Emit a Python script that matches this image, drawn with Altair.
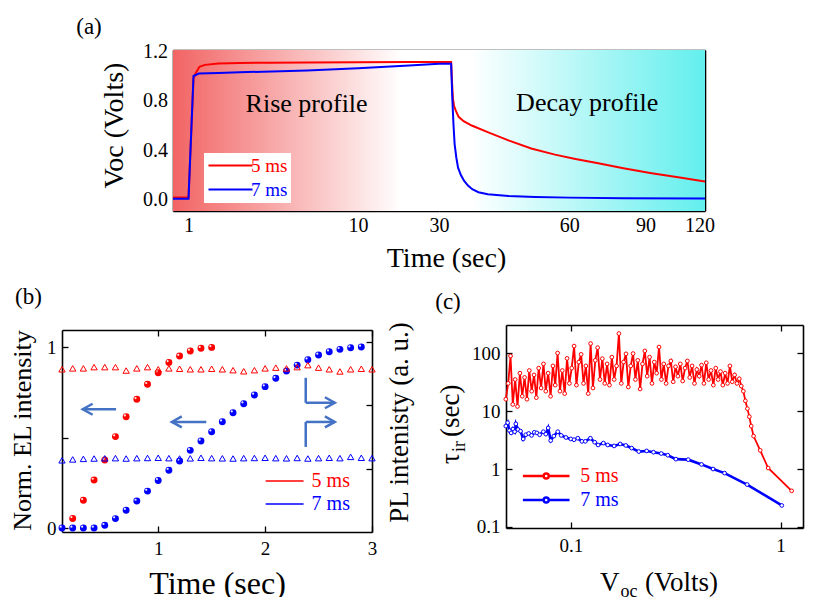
import math
import altair as alt
import pandas as pd

FONT = "Liberation Serif"
RED = "#ff0000"
BLUE = "#0000ff"
ARROW = "#4472c4"
S5, S7 = "5 ms", "7 ms"
SERIES = [S5, S7]
LABEL_COLOR = "datum.label == '5 ms' ? '#ff0000' : '#0000ff'"

# ---------------- (a) Voc rise / decay ----------------
rise5_t = [0.81, 1.0, 1.07, 1.1, 1.16, 1.25, 1.5, 2.0, 3.0, 5.0, 10.0, 20.0, 30.0]
rise5_v = [0.02, 0.02, 0.98, 1.02, 1.075, 1.09, 1.10, 1.105, 1.108, 1.11, 1.112, 1.113, 1.113]
rise7_t = [0.81, 1.0, 1.07, 1.15, 1.5, 2.0, 5.0, 10.0, 20.0, 30.0]
rise7_v = [0.008, 0.008, 1.0, 1.02, 1.025, 1.03, 1.045, 1.062, 1.085, 1.098]
decay5_t = [30.0, 32.0, 32.15, 32.3, 32.5, 32.8, 33.3, 34.2, 35.7, 39.0, 43.4, 49.0,
            55.6, 62.0, 70.0, 80.0, 93.0, 108.0, 123.5]
decay5_v = [1.113, 1.113, 0.95, 0.82, 0.76, 0.72, 0.67, 0.635, 0.60, 0.545, 0.48, 0.415,
            0.365, 0.33, 0.295, 0.255, 0.215, 0.18, 0.148]
decay7_t = [30.0, 32.0, 32.2, 32.4, 32.6, 32.9, 33.2, 33.7, 34.3, 35.0, 35.8, 37.0,
            38.9, 43.4, 50.0, 60.0, 80.0, 123.5]
decay7_v = [1.098, 1.098, 0.82, 0.61, 0.45, 0.34, 0.26, 0.20, 0.153, 0.115, 0.086, 0.062,
            0.046, 0.032, 0.024, 0.018, 0.013, 0.010]

# ---------------- (b) EL (left) / PL (right, a.u.) vs time ----------------
el5_t = [0.2, 0.3, 0.4, 0.5, 0.6, 0.7, 0.8, 0.9, 1.0, 1.1, 1.2, 1.3, 1.4, 1.5]
el5_v = [0.053, 0.153, 0.265, 0.376, 0.505, 0.615, 0.711, 0.794, 0.858, 0.915, 0.95,
         0.978, 0.993, 0.998]
el7_t = [0.1, 0.2, 0.3, 0.4, 0.5, 0.6, 0.7, 0.8, 0.9, 1.0, 1.1, 1.2, 1.3, 1.4, 1.5,
         1.6, 1.7, 1.8, 1.9, 2.0, 2.1, 2.2, 2.3, 2.4, 2.5, 2.6, 2.7, 2.8, 2.9]
el7_v = [0.0, 0.0, 0.0, 0.0, 0.015, 0.052, 0.098, 0.149, 0.204, 0.263, 0.319, 0.37,
         0.429, 0.481, 0.532, 0.587, 0.637, 0.687, 0.735, 0.781, 0.827, 0.867, 0.9,
         0.93, 0.956, 0.974, 0.987, 0.996, 1.0]
pl_t = [0.1, 0.2, 0.3, 0.4, 0.5, 0.6, 0.7, 0.8, 0.9, 1.0, 1.1, 1.2, 1.3, 1.4, 1.5,
        1.6, 1.7, 1.8, 1.9, 2.0, 2.1, 2.2, 2.3, 2.4, 2.5, 2.6, 2.7, 2.8, 2.9, 3.0]
pl5 = [0.877, 0.882, 0.882, 0.889, 0.889, 0.889, 0.870, 0.882, 0.889, 0.877, 0.882, 0.880,
       0.877, 0.877, 0.880, 0.877, 0.872, 0.866, 0.872, 0.882, 0.886, 0.882, 0.889, 0.900,
       0.886, 0.877, 0.865, 0.877, 0.880, 0.877]
pl7 = [0.374, 0.379, 0.382, 0.384, 0.385, 0.386, 0.384, 0.386, 0.387, 0.388, 0.386, 0.384,
       0.385, 0.388, 0.386, 0.385, 0.384, 0.386, 0.387, 0.388, 0.386, 0.385, 0.387, 0.384,
       0.386, 0.388, 0.386, 0.393, 0.388, 0.386]
pl_ticks = [0.326, 0.679, 1.028]
arrow_x = [0.606, 1.45, 2.38, 2.38, 2.38, 2.38]
arrow_y = [0.656, 0.586, 0.83, 0.692, 0.448, 0.586]
arrow_x2 = [0.294, 1.128, 2.38, 2.652, 2.38, 2.652]
arrow_y2 = [0.656, 0.586, 0.692, 0.692, 0.586, 0.586]
headL_x = [0.294, 1.128]
headL_y = [0.656, 0.586]
headR_x = [2.652, 2.652]
headR_y = [0.692, 0.586]

# ---------------- (c) tau_ir vs Voc ----------------
c5_x = [0.049, 0.0503, 0.0516, 0.0529, 0.0543, 0.0557, 0.0572, 0.0587, 0.0602, 0.0618,
        0.0634, 0.0651, 0.0668, 0.0685, 0.0703, 0.0722, 0.0741, 0.076, 0.078, 0.0801,
        0.0822, 0.0843, 0.0865, 0.0888, 0.0911, 0.0935, 0.096, 0.0985, 0.101, 0.1037,
        0.1064, 0.1092, 0.112, 0.115, 0.118, 0.1211, 0.1243, 0.1275, 0.1309, 0.1343,
        0.1378, 0.1414, 0.1452, 0.149, 0.1529, 0.1569, 0.161, 0.1653, 0.1696, 0.1741,
        0.1786, 0.1833, 0.1881, 0.1931, 0.1981, 0.2033, 0.2087, 0.2141, 0.2198, 0.2255,
        0.2314, 0.2375, 0.2438, 0.2502, 0.2567, 0.2635, 0.2704, 0.2775, 0.2848, 0.2923,
        0.3, 0.3078, 0.3159, 0.3242, 0.3328, 0.3415, 0.3505, 0.3597, 0.3691, 0.3788,
        0.3888, 0.399, 0.4095, 0.4202, 0.4313, 0.4426, 0.4542, 0.4662, 0.4784, 0.491,
        0.5039, 0.5171, 0.5307, 0.5446, 0.5589, 0.5736, 0.5887, 0.6041, 0.62, 0.6363,
        0.65, 0.665, 0.68, 0.695, 0.71, 0.725, 0.744, 0.8, 0.873, 1.13]
c5_y = [16, 30, 89, 13, 35, 12, 45, 18, 38, 16,
        50, 22, 42, 17, 55, 25, 65, 22, 45, 18,
        60, 28, 100, 22, 50, 20, 81, 30, 55, 132,
        28, 70, 95, 30, 60, 20, 146, 25, 75, 124,
        35, 80, 30, 65, 28, 85, 35, 60, 217, 30,
        70, 97, 26, 60, 98, 35, 75, 24, 65, 109,
        40, 85, 30, 70, 45, 127, 35, 65, 30, 60,
        73, 32, 58, 40, 65, 33, 55, 73, 38, 60,
        30, 52, 40, 62, 30, 68, 35, 50, 28, 55,
        35, 48, 28, 45, 30, 60, 32, 42, 30, 36,
        27, 22, 15, 11, 8, 5.5, 3.7, 2.1, 1.04, 0.42]
c7_x = [0.049, 0.05, 0.051, 0.052, 0.053, 0.054, 0.0547, 0.056, 0.0576, 0.0593,
        0.061, 0.063, 0.065, 0.067, 0.0689, 0.071, 0.074, 0.076, 0.078, 0.0802,
        0.083, 0.0867, 0.09, 0.0948, 0.1, 0.1036, 0.108, 0.113, 0.1173, 0.124,
        0.13, 0.135, 0.143, 0.15, 0.161, 0.172, 0.183, 0.195, 0.211, 0.23,
        0.248, 0.27, 0.29, 0.317, 0.363, 0.42, 0.477, 0.541, 0.693, 1.014]
c7_y = [5.5, 6.3, 4.6, 4.2, 4.9, 4.4, 6.0, 4.8, 4.5, 3.3,
        3.9, 4.1, 3.8, 4.3, 4.2, 3.9, 4.4, 4.0, 5.1, 3.1,
        3.7, 4.4, 3.8, 3.5, 3.3, 3.2, 3.4, 3.0, 3.0, 3.4,
        2.9, 2.6, 2.8, 2.6, 2.5, 2.7, 2.55, 2.3, 2.0, 2.05,
        1.95, 1.85, 1.73, 1.48, 1.45, 1.2, 1.0, 0.85, 0.54, 0.235]

# ---------------- layout: two cells, (a) on top and (b)+(c) below ----------------
AL_OFF, AL_AX, AR_AX, A_H = 111, 266, 266, 161
A_W = AL_OFF + AL_AX + AR_AX
B_AX, B_H, B_TOP = 310, 202, 5
C_OFF, C_W, C_H = 444, 297, 203
BC_W, BC_H = C_OFF + C_W, B_TOP + B_H
DOM_XL, DOM_XR, DOM_YA = [0.81, 30.0], [30.0, 123.5], [-0.09, 1.21]
DOM_XB, DOM_YB = [0.1, 3.0], [-0.022, 1.094]
DOM_XC, DOM_YC = [0.0491, 1.28], [0.096, 305.0]


# pixel offset (from a panel's axis origin) -> data value, used for annotations only
def at_lin(dom, size, p, flip=False):
    f = p / size
    return dom[1] - f * (dom[1] - dom[0]) if flip else dom[0] + f * (dom[1] - dom[0])


def at_log(dom, size, p, flip=False):
    a, b = math.log10(dom[0]), math.log10(dom[1])
    f = p / size
    return 10 ** (b - f * (b - a)) if flip else 10 ** (a + f * (b - a))


def ax(orient, values, size, labels=False, expr="", domain=False, lsize=19, lpad=4, **kw):
    d = dict(orient=orient, values=values, tickSize={"expr": str(-size)}, ticks=True,
             domain=domain, grid=False, labels=labels, title=None,
             tickColor="black", tickWidth=1.3, domainColor="black", domainWidth=1.6)
    if labels:
        d.update(labelExpr=expr, labelFont=FONT, labelFontSize=lsize, labelColor="black",
                 labelPadding=lpad + size, labelFlush=False, labelOverlap=False)
    d.update(kw)
    return alt.Axis(**d)


def title_kw(text, size, x, y, angle=0):
    return dict(title=text, titleFont=FONT, titleFontSize=size, titleFontWeight="normal",
                titleColor="black", titleX=x, titleY=y, titleAngle=angle,
                titleAlign="center", titleBaseline="alphabetic")


def guide(df, xf, xs, yf, ys, xa=None, ya=None):
    return alt.Chart(df).mark_point(opacity=0).encode(
        x=alt.X(xf, scale=xs, axis=xa), y=alt.Y(yf, scale=ys, axis=ya))


def tlabel(text, xv, yv, xs, ys, size, **kw):
    df = pd.DataFrame({"x": [xv], "y": [yv], "txt": [text]})
    return alt.Chart(df).mark_text(font=FONT, fontSize=size, color="black", **kw).encode(
        x=alt.X("x:Q", scale=xs, axis=None), y=alt.Y("y:Q", scale=ys, axis=None), text="txt:N")


def bg(dx, dy, xs, ys, stops):
    df = pd.DataFrame({"x0": [dx[0]], "x1": [dx[1]], "y0": [dy[0]], "y1": [dy[1]]})
    grad = alt.LinearGradient(gradient="linear", x1=0, x2=1, y1=0, y2=0,
                              stops=[alt.GradientStop(color=c, offset=o) for o, c in stops])
    return alt.Chart(df).mark_rect(fill=grad).encode(
        x=alt.X("x0:Q", scale=xs, axis=None), x2="x1:Q",
        y=alt.Y("y0:Q", scale=ys, axis=None), y2="y1:Q")


# ================= panel (a): two log segments side by side =================
xL = alt.Scale(type="log", domain=DOM_XL, range=[AL_OFF, AL_OFF + AL_AX], nice=False)
xR = alt.Scale(type="log", domain=DOM_XR, range=[AL_OFF + AL_AX, A_W], nice=False)
yA = alt.Scale(domain=DOM_YA, nice=False, zero=False)

rise_df = pd.DataFrame({"t": rise5_t + rise7_t, "v": rise5_v + rise7_v,
                        "s": [S5] * len(rise5_t) + [S7] * len(rise7_t)})
d5_df = pd.DataFrame({"t": decay5_t, "v": decay5_v})
d7_df = pd.DataFrame({"t": decay7_t, "v": decay7_v})

legA = alt.Legend(title=None, orient="none", legendX=AL_OFF + 31, legendY=103,
                  direction="vertical", fillColor="white", padding=3, rowPadding=4,
                  symbolType="M-4,0H4", symbolSize=121, symbolStrokeWidth=2, symbolOffset=14,
                  labelOffset=11, labelFont=FONT, labelFontSize=19,
                  labelColor={"expr": LABEL_COLOR})

anchor_df = pd.DataFrame({"x": [at_log(DOM_XL, AL_AX, -164)], "y": [at_lin(DOM_YA, A_H, -41, True)]})
minorL = [0.9, 2, 3, 4, 5, 6, 7, 8, 9, 20]
minorR = [33.75, 37.5, 41.25, 45, 48.75, 52.5, 56.25, 63.75, 67.5, 71.25, 75, 78.75, 82.5,
          86.25, 93.75, 97.5, 101.25, 105, 108.75, 112.5, 116.25]

A = alt.layer(
    bg(DOM_XL, DOM_YA, xL, yA, [(0, "#f26464"), (0.86, "#ffffff"), (1, "#ffffff")]),
    bg(DOM_XR, DOM_YA, xR, yA, [(0, "#ffffff"), (0.12, "#ffffff"), (1, "#62efed")]),
    alt.Chart(rise_df).mark_line(strokeWidth=2, clip=True).encode(
        x=alt.X("t:Q", scale=xL, axis=None), y=alt.Y("v:Q", scale=yA, axis=None),
        color=alt.Color("s:N", scale=alt.Scale(domain=SERIES, range=[RED, BLUE]), legend=legA)),
    alt.Chart(d5_df).mark_line(strokeWidth=2, color=RED, clip=True).encode(
        x=alt.X("t:Q", scale=xR, axis=None), y=alt.Y("v:Q", scale=yA, axis=None)),
    alt.Chart(d7_df).mark_line(strokeWidth=2, color=BLUE, clip=True).encode(
        x=alt.X("t:Q", scale=xR, axis=None), y=alt.Y("v:Q", scale=yA, axis=None)),
    tlabel("Rise profile", 4.97, 0.775, xL, yA, 26),
    tlabel("Decay profile", 66.0, 0.78, xR, yA, 26),
    tlabel("(a)", at_log(DOM_XL, AL_AX, -84), at_lin(DOM_YA, A_H, -23, True), xL, yA, 23),
    alt.Chart(anchor_df).mark_circle(size=1, opacity=0).encode(
        x=alt.X("x:Q", scale=xL, axis=None), y=alt.Y("y:Q", scale=yA, axis=None)),
    # axes of the left (log 0.8-30 s) segment
    guide(rise_df, "t:Q", xL, "v:Q", yA,
          xa=ax("bottom", [1, 10, 30], 6, labels=True, expr="format(datum.value, 'd')",
                domain=True, lsize=20, lpad=4.5)),
    guide(rise_df, "t:Q", xL, "v:Q", yA, xa=ax("bottom", minorL, 3.5)),
    guide(rise_df, "t:Q", xL, "v:Q", yA, xa=ax("top", [1, 10, 30], 6, domain=True)),
    guide(rise_df, "t:Q", xL, "v:Q", yA, xa=ax("top", minorL, 3.5)),
    guide(rise_df, "t:Q", xL, "v:Q", yA,
          ya=ax("left", [0, 0.4, 0.8, 1.2], 6, labels=True, expr="format(datum.value, '.1f')",
                domain=True, lsize=20, lpad=5.5, offset=-AL_OFF,
                **title_kw("Voc (Volts)", 28, -51, 75, 270))),
    guide(rise_df, "t:Q", xL, "v:Q", yA, ya=ax("left", [0.2, 0.6, 1.0], 3.5, offset=-AL_OFF)),
    # axes of the right (log 30-120 s) segment
    guide(d5_df, "t:Q", xR, "v:Q", yA,
          xa=ax("bottom", [60, 90, 120], 6, labels=True, expr="format(datum.value, 'd')",
                domain=True, lsize=20, lpad=4.5,
                **title_kw("Time (sec)", 28, AL_OFF + AL_AX + 7, 55.5))),
    guide(d5_df, "t:Q", xR, "v:Q", yA, xa=ax("bottom", minorR, 3.5)),
    guide(d5_df, "t:Q", xR, "v:Q", yA, xa=ax("top", [60, 90, 120], 6, domain=True)),
    guide(d5_df, "t:Q", xR, "v:Q", yA, xa=ax("top", minorR, 3.5)),
    guide(d5_df, "t:Q", xR, "v:Q", yA, ya=ax("right", [0, 0.4, 0.8, 1.2], 6, domain=True)),
    guide(d5_df, "t:Q", xR, "v:Q", yA, ya=ax("right", [0.2, 0.6, 1.0], 3.5)),
).resolve_scale(x="independent", color="independent").resolve_axis(
    x="independent", y="independent").properties(width=A_W, height=A_H)

# ================= panel (b) =================
xB = alt.Scale(domain=DOM_XB, range=[0, B_AX], nice=False, zero=False)
yB = alt.Scale(domain=DOM_YB, range=[B_TOP + B_H, B_TOP], nice=False, zero=False)

el5_df = pd.DataFrame({"t": el5_t, "v": el5_v})
el7_df = pd.DataFrame({"t": el7_t, "v": el7_v})
pl_df = pd.DataFrame({"t": pl_t + pl_t, "v": pl5 + pl7, "s": [S5] * len(pl_t) + [S7] * len(pl_t)})
arr_df = pd.DataFrame({"x": arrow_x, "y": arrow_y, "x2": arrow_x2, "y2": arrow_y2})
hl_df = pd.DataFrame({"t": headL_x, "v": headL_y})
hr_df = pd.DataFrame({"t": headR_x, "v": headR_y})

legB = alt.Legend(title=None, orient="none", legendX=204, legendY=141 + B_TOP,
                  direction="vertical", padding=0, rowPadding=3, symbolType="M-4,0H4",
                  symbolSize=90, symbolStrokeWidth=1.3, symbolOffset=8.6, labelOffset=17,
                  labelFont=FONT, labelFontSize=20, labelColor={"expr": LABEL_COLOR})


def enc_b(ch):
    return ch.encode(x=alt.X("t:Q", scale=xB, axis=None), y=alt.Y("v:Q", scale=yB, axis=None))


layers_b = [
    enc_b(alt.Chart(el5_df).mark_circle(size=48, color=RED, opacity=1)),
    enc_b(alt.Chart(el7_df).mark_circle(size=48, color=BLUE, opacity=1)),
    enc_b(alt.Chart(el5_df).mark_circle(size=5, color="white", opacity=0.9, xOffset=-1.3, yOffset=-1.3)),
    enc_b(alt.Chart(el7_df).mark_circle(size=5, color="white", opacity=0.9, xOffset=-1.3, yOffset=-1.3)),
    alt.Chart(pl_df).mark_point(shape="triangle-up", filled=False, size=40, strokeWidth=1,
                                opacity=1).encode(
        x=alt.X("t:Q", scale=xB, axis=None), y=alt.Y("v:Q", scale=yB, axis=None),
        color=alt.Color("s:N", scale=alt.Scale(domain=SERIES, range=[RED, BLUE]), legend=legB)),
    alt.Chart(arr_df).mark_rule(color=ARROW, strokeWidth=2.5).encode(
        x=alt.X("x:Q", scale=xB, axis=None), y=alt.Y("y:Q", scale=yB, axis=None),
        x2="x2:Q", y2="y2:Q"),
    enc_b(alt.Chart(hl_df).mark_point(shape="M1.8,-1L0,0L1.8,1", size=121, filled=False,
                                     color=ARROW, strokeWidth=2.5, opacity=1)),
    enc_b(alt.Chart(hr_df).mark_point(shape="M-1.8,-1L0,0L-1.8,1", size=121, filled=False,
                                     color=ARROW, strokeWidth=2.5, opacity=1)),
    tlabel("(b)", at_lin(DOM_XB, B_AX, -33.5), at_lin(DOM_YB, B_H, -33, True), xB, yB, 23),
    guide(el7_df, "t:Q", xB, "v:Q", yB,
          xa=ax("bottom", [1, 2, 3], 6, labels=True, expr="format(datum.value, 'd')",
                domain=True, lsize=19, lpad=7.5, **title_kw("Time (sec)", 32, 155, 61))),
    guide(el7_df, "t:Q", xB, "v:Q", yB,
          xa=ax("top", [1, 2, 3], 6, domain=True, offset=-B_TOP)),
    guide(el7_df, "t:Q", xB, "v:Q", yB,
          ya=ax("left", [0, 0.5, 1], 6, labels=True,
                expr="datum.value == 0.5 ? '' : format(datum.value, 'd')",
                domain=True, lsize=19, lpad=6,
                **title_kw("Norm. EL intensity", 26, -31.7, 100 + B_TOP, 270))),
    guide(el7_df, "t:Q", xB, "v:Q", yB,
          ya=ax("right", pl_ticks, 6, domain=True, offset=-(BC_W - B_AX),
                **title_kw("PL intenisty (a. u.)", 27, 35, 92 + B_TOP, 270))),
]

# ================= panel (c) =================
xC = alt.Scale(type="log", domain=DOM_XC, range=[C_OFF, C_OFF + C_W], nice=False)
yC = alt.Scale(type="log", domain=DOM_YC, range=[C_H, 0], nice=False)
c_df = pd.DataFrame({"x": c5_x + c7_x, "y": c5_y + c7_y,
                     "s": [S5] * len(c5_x) + [S7] * len(c7_x)})
colC = alt.Scale(domain=SERIES, range=[RED, BLUE])
legC = alt.Legend(title=None, orient="none", legendX=C_OFF + 14, legendY=141,
                  direction="vertical", padding=0, rowPadding=4,
                  symbolType="M-4,0H-0.43A0.43,0.43,0,1,1,0.43,0A0.43,0.43,0,1,1,-0.43,0M0.43,0H4",
                  symbolSize=136, symbolStrokeWidth=2.5, symbolOffset=16.2, labelOffset=24,
                  labelFont=FONT, labelFontSize=20, labelColor={"expr": LABEL_COLOR})


def cl(text, px, py, size, **kw):
    return tlabel(text, at_log(DOM_XC, C_W, px), at_log(DOM_YC, C_H, py, True), xC, yC, size, **kw)


layers_c = [
    alt.Chart(c_df).mark_line(clip=True).encode(
        x=alt.X("x:Q", scale=xC, axis=None), y=alt.Y("y:Q", scale=yC, axis=None),
        color=alt.Color("s:N", scale=colC, legend=legC),
        strokeWidth=alt.StrokeWidth("s:N", scale=alt.Scale(domain=SERIES, range=[1.8, 2.6]),
                                    legend=None)),
    alt.Chart(c_df).mark_point(filled=False, fill="white", size=14, strokeWidth=1, opacity=1,
                               clip=True).encode(
        x=alt.X("x:Q", scale=xC, axis=None), y=alt.Y("y:Q", scale=yC, axis=None),
        color=alt.Color("s:N", scale=colC, legend=None)),
    cl("(c)", -58, -23, 23),
    cl("V", 94, 266, 27, align="left", baseline="alphabetic"),
    cl("oc", 114.5, 272, 18, align="left", baseline="alphabetic"),
    cl("(Volts)", 139, 266, 27, align="left", baseline="alphabetic"),
    cl("\u03c4", -47, 139, 27, align="left", baseline="alphabetic", angle=270),
    cl("ir", -41, 127, 18, align="left", baseline="alphabetic", angle=270),
    cl("(sec)", -47, 112, 27, align="left", baseline="alphabetic", angle=270),
    guide(c_df, "x:Q", xC, "y:Q", yC,
          xa=ax("bottom", [0.1, 1], 6, labels=True, expr="datum.value < 0.5 ? '0.1' : '1'",
                domain=True, lsize=19, lpad=8.5, offset=-(BC_H - C_H))),
    guide(c_df, "x:Q", xC, "y:Q", yC, xa=ax("top", [0.1, 1], 6, domain=True)),
    guide(c_df, "x:Q", xC, "y:Q", yC,
          ya=ax("left", [0.1, 1, 10, 100], 6, labels=True,
                expr="datum.value < 0.5 ? '0.1' : format(datum.value, 'd')",
                domain=True, lsize=19, lpad=6, offset=-C_OFF)),
    guide(c_df, "x:Q", xC, "y:Q", yC, ya=ax("right", [0.1, 1, 10, 100], 6, domain=True)),
]

BC = alt.layer(*layers_b, *layers_c).resolve_scale(
    x="independent", y="independent", color="independent").resolve_axis(
    x="independent", y="independent").properties(width=BC_W, height=BC_H)

chart = alt.vconcat(A, BC, spacing=324 - 49 - A_H, bounds="flush").properties(
    padding={"left": 0, "top": 0, "right": 0, "bottom": 0}).configure(
    font=FONT).configure_view(stroke="transparent")

chart.save("out.html", embed_options={"renderer": "svg", "actions": False})
